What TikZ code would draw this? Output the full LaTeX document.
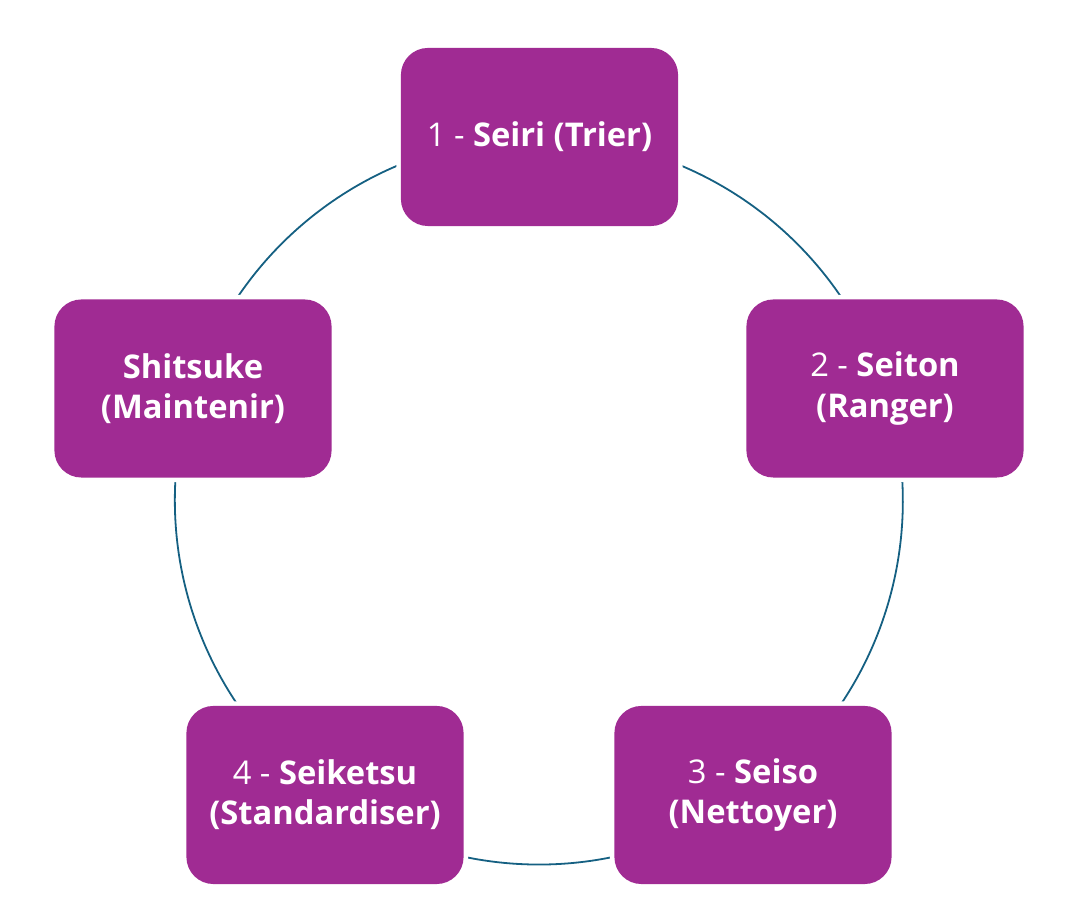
\documentclass[tikz,border=0pt]{standalone}
\usepackage{fontspec}
\setmainfont{Open Sans}
\usetikzlibrary{backgrounds}
\definecolor{boxpurple}{HTML}{A02B93}
\definecolor{arcteal}{HTML}{156082}
\begin{document}
\begin{tikzpicture}[x=0.01cm,y=0.01cm,
  stepbox/.style={rectangle, rounded corners=0.27cm, fill=boxpurple,
    minimum width=2.77cm, minimum height=1.78cm, inner sep=0pt,
    text=white, align=center,
    font=\fontsize{9.3}{11.4}\selectfont,
    preaction={draw=white, line width=0.09cm}},
  arcline/.style={draw=arcteal, line width=0.018cm}]
\useasboundingbox (0,0) rectangle (1081,912);
\coordinate (c) at (539,411);
\node[stepbox] (n1) at (539.5,775) {1 - \textbf{Seiri (Trier)}};
\node[stepbox] (n2) at (885,523.5) {2 - \textbf{Seiton}\\\textbf{(Ranger)}};
\node[stepbox] (n3) at (753,117) {3 - \textbf{Seiso}\\\textbf{(Nettoyer)}};
\node[stepbox] (n4) at (325,117) {4 - \textbf{Seiketsu}\\\textbf{(Standardiser)}};
\node[stepbox] (n5) at (193,523.5) {\textbf{Shitsuke}\\\textbf{(Maintenir)}};
\begin{scope}[on background layer]
\draw[arcline] (n1.center) arc[start angle=90, end angle=18, radius=3.64cm];
\draw[arcline] (n2.center) arc[start angle=18, end angle=-54, radius=3.64cm];
\draw[arcline] (n3.center) arc[start angle=-54, end angle=-126, radius=3.64cm];
\draw[arcline] (n4.center) arc[start angle=-126, end angle=-198, radius=3.64cm];
\draw[arcline] (n5.center) arc[start angle=162, end angle=90, radius=3.64cm];
\end{scope}
\end{tikzpicture}
\end{document}
